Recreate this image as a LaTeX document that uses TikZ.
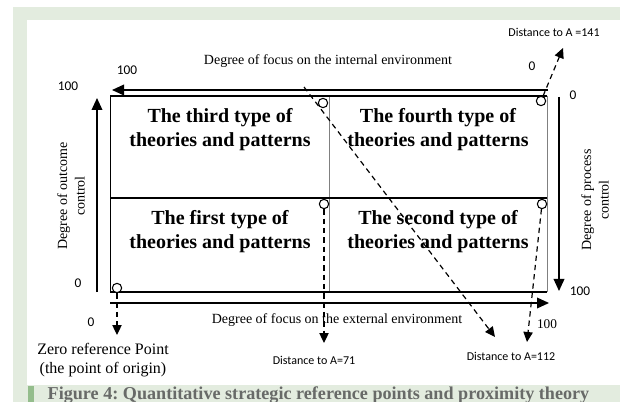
\documentclass[tikz,border=0pt]{standalone}
\usepackage{fontspec}
\setmainfont{Liberation Serif}
\newfontfamily\calibri{Carlito}
\usetikzlibrary{arrows.meta}
\definecolor{bandgreen}{RGB}{227,236,223}
\definecolor{markgreen}{RGB}{148,189,140}
\definecolor{captiongray}{RGB}{104,106,104}
\frenchspacing

\begin{document}
\begin{tikzpicture}[x=0.75pt, y=-0.75pt,
    axis/.style={line width=1.1pt, -{Triangle[length=9pt, width=8pt]}},
    dist/.style={line width=0.9pt, dash pattern=on 4pt off 3pt, -{Triangle[length=7.5pt, width=7pt]}},
    refpt/.style={circle, draw, line width=0.8pt, fill=white, minimum size=7pt, inner sep=0pt},
    quad/.style={align=center, font=\bfseries\fontsize{15}{18}\selectfont},
    lab/.style={font=\fontsize{10.5}{13}\selectfont, align=center},
    num/.style={font=\calibri\fontsize{10}{12}\selectfont},
    note/.style={font=\calibri\fontsize{9}{11}\selectfont}]
                    % frame and caption band
                    \useasboundingbox (0,0) rectangle (620,402);
                    \fill[bandgreen] (13,7) rectangle (620,402);
                    \fill[white] (27,20) rectangle (620,385);
                    \fill[markgreen] (28,386) rectangle (34,402);
                    \node[anchor=base west, text=captiongray, font=\bfseries\fontsize{13.6}{16}\selectfont] (cap) at (43,399)
                        {Figure 4: Quantitative strategic reference points and proximity theory};

                    % the four quadrants
                    \coordinate (TL) at (110,96);  \coordinate (TR) at (547,96);
                    \coordinate (BL) at (110,292); \coordinate (BR) at (547,292);
                    \coordinate (ML) at (110,198); \coordinate (MR) at (547,198);
                    \coordinate (MT) at (329,96);  \coordinate (MB) at (329,292);
                    \draw[line width=0.6pt] (BL) -- (TL);
                    \draw[line width=0.6pt, gray] (TR) -- (BR) (MT) -- (MB);
                    \draw[line width=1pt] (TL) -- (TR) (ML) -- (MR) (BL) -- (BR);

                    \node[quad] (Q3) at (220,130) {The third type of\\theories and patterns};
                    \node[quad] (Q4) at (438,130) {The fourth type of\\theories and patterns};
                    \node[quad] (Q1) at (220,232) {The first type of\\theories and patterns};
                    \node[quad] (Q2) at (438,232) {The second type of\\theories and patterns};

                    % axes
                    \coordinate (A1) at (548,90);  \coordinate (A2) at (112,90);
                    \coordinate (B1) at (97,292);  \coordinate (B2) at (97,98);
                    \coordinate (R1) at (559,97);  \coordinate (R2) at (559,291);
                    \coordinate (H1) at (110,303); \coordinate (H2) at (549,303);
                    \draw[axis] (A1) -- (A2);
                    \draw[axis] (B1) -- (B2);
                    \draw[axis] (R1) -- (R2);
                    \draw[axis] (H1) -- (H2);

                    \node[lab] (intl) at (328,61) {Degree of focus on the internal environment};
                    \node[lab] (extl) at (337,320) {Degree of focus on the external environment};
                    \node[lab, rotate=90] (outl) at (71,196) {Degree of outcome\\control};
                    \node[lab, rotate=90] (procl) at (595,200) {Degree of process\\control};

                    \node[num] (n1) at (127,70) {100};
                    \node[num] (n2) at (68,86) {100};
                    \node[num] (n3) at (532,66) {0};
                    \node[num] (n4) at (573,95) {0};
                    \node[num] (n5) at (580,291) {100};
                    \node[num] (n6) at (78,283) {0};
                    \node[num] (n7) at (91,322) {0};
                    \node[lab, font=\fontsize{10}{12}\selectfont] (n8) at (547,324) {100};

                    % reference points and distances
                    \foreach \n/\x/\y in {C1/117/288, C2/324/204, C3/542/204, C4/541/101, C5/323/103} {
                        \node[refpt] (\n) at (\x,\y) {};
                    }
                    \coordinate (T0) at (117,335);
                    \coordinate (T71) at (324,343);
                    \coordinate (T112) at (527,342);
                    \coordinate (T141) at (563,48);
                    \coordinate (S1) at (304,87);
                    \coordinate (S2) at (495,337);
                    \draw[dist] (C1) -- (T0);
                    \draw[dist] (C2) -- (T71);
                    \draw[dist] (C3) -- (T112);
                    \draw[dist] (C4) -- (T141);
                    \draw[dist] (S1) -- (S2);

                    \node[lab, font=\fontsize{12}{14.5}\selectfont] (zero) at (103,360) {Zero reference Point\\(the point of origin)};
                    \node[note] (d71) at (314,360) {Distance to A=71};
                    \node[note] (d112) at (511,356) {Distance to A=112};
                    \node[note] (d141) at (554,32) {Distance to A =141};
                \end{tikzpicture}
\end{document}
